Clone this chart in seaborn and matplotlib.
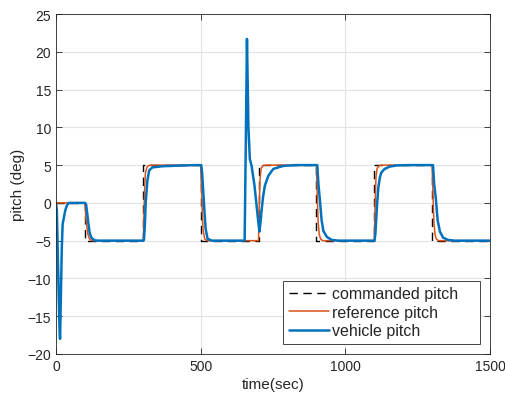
import matplotlib
matplotlib.use("Agg")
import matplotlib.pyplot as plt
import seaborn as sns
import pandas as pd

# ---- data ----
cmd_t = [0, 100, 300, 500, 700, 900, 1100, 1300, 1500]
cmd_v = [0, -5, 5, -5, 5, -5, 5, -5, -5]

ref_t = [0, 100, 102, 104, 107, 110, 116, 124,
         302, 303.5, 305, 307, 309, 315, 325,
         500, 502.5, 504.6, 508, 514, 522,
         700, 702, 705, 709, 716, 725,
         900, 903, 906, 910, 915, 922,
         1100, 1103, 1106, 1110, 1118, 1125,
         1300, 1303, 1306, 1310, 1315, 1322, 1500]
ref_v = [0, 0, -1.3, -2.3, -3.3, -4.1, -4.8, -5,
         -5, -2, 0, 2.5, 4, 4.8, 5,
         5, 2, 0, -3.5, -4.8, -5,
         -5, -1, 3, 4.6, 4.95, 5,
         5, 1, -2.5, -4.2, -4.8, -5,
         -5, 0, 3.5, 4.6, 4.95, 5,
         5, 1, -2.5, -4.2, -4.8, -5, -5]

veh_t = [0, 3, 8, 12, 14, 17, 20, 23, 27, 32, 38, 45,
         100, 104, 110, 116, 122, 133, 145,
         300, 304, 307, 310, 316, 322, 333, 368, 414, 480,
         502, 505, 508, 513, 517, 524, 539,
         652, 656, 660, 665, 670, 676, 686, 698, 703,
         707, 711, 716, 722, 734, 751, 786, 830,
         903, 907, 913, 918, 924, 936, 953, 976,
         1101, 1104, 1107, 1110, 1114, 1119, 1124, 1136, 1153, 1176, 1220,
         1303, 1307, 1313, 1319, 1327, 1338, 1355, 1378, 1500]
veh_v = [0, -1, -10, -16.5, -18, -12, -6, -2.8, -2.0, -1.0, -0.3, 0,
         0, -0.2, -2.1, -3.9, -4.6, -4.95, -5,
         -5, -4.9, -3, 0, 3, 4.3, 4.7, 4.85, 4.92, 5.0,
         5.0, 4.0, 2.1, -1, -3.4, -4.75, -5,
         -5, 8, 21.7, 10, 5.8, 4.9, 2.3, -2.1, -3.8,
         -2.5, -0.8, 0.9, 2.3, 3.6, 4.5, 4.9, 5.0,
         5.0, 2.5, 0, -2.3, -3.7, -4.5, -4.9, -5,
         -5, -4, -2, 0, 2.0, 3.3, 4.0, 4.5, 4.8, 4.95, 5,
         5, 2.5, 0.5, -2.3, -3.8, -4.6, -4.9, -5, -5]

x_ticks = [0, 500, 1000, 1500]
y_ticks = list(range(-20, 30, 5))

sns.set_style("white")
plt.rcParams['font.family'] = ['Liberation Sans', 'DejaVu Sans']

fig = plt.figure(figsize=(5.05, 4.02), dpi=100)
ax = fig.add_axes([56/505, 1-355/402, (490-56)/505, (355-15)/402])

cmd = pd.DataFrame({"t": cmd_t, "v": cmd_v})
ref = pd.DataFrame({"t": ref_t, "v": ref_v})
veh = pd.DataFrame({"t": veh_t, "v": veh_v})

sns.lineplot(data=cmd, x="t", y="v", ax=ax, color="black", lw=1.0,
             drawstyle="steps-post", dashes=False, estimator=None, sort=False,
             label="commanded pitch", linestyle=(0, (6, 4)))
sns.lineplot(data=ref, x="t", y="v", ax=ax, color="#D95319", lw=1.1,
             estimator=None, sort=False, label="reference pitch")
sns.lineplot(data=veh, x="t", y="v", ax=ax, color="#0072BD", lw=1.8,
             estimator=None, sort=False, label="vehicle pitch")

ax.set_xlim(0, 1500)
ax.set_ylim(-20, 25)
ax.set_xticks(x_ticks)
ax.set_yticks(y_ticks)
ax.grid(True, color="#e3e3e3", lw=0.8)
ax.set_axisbelow(True)
ax.tick_params(direction="in", length=4, width=0.6, colors="#262626",
               labelsize=10, top=True, right=True, bottom=True, left=True)
for s in ax.spines.values():
    s.set_color("#262626")
    s.set_linewidth(0.6)
ax.set_xlabel("time(sec)", fontsize=11, color="#262626", labelpad=3)
ax.set_ylabel("pitch (deg)", fontsize=11, color="#262626", labelpad=2)

x0 = (283 - 56) / 434
x1 = (480 - 56) / 434
y0 = (355 - 345) / 340
leg = ax.legend(loc="lower left", bbox_to_anchor=(x0, y0, x1 - x0, 0.2),
                mode="expand", fontsize=11.5, frameon=True, fancybox=False,
                framealpha=1, edgecolor="#262626", handlelength=2.5,
                handletextpad=0.2, labelspacing=0.22, borderaxespad=0,
                borderpad=0.35)
leg.get_frame().set_linewidth(0.6)

fig.savefig("out.png", dpi=100)
